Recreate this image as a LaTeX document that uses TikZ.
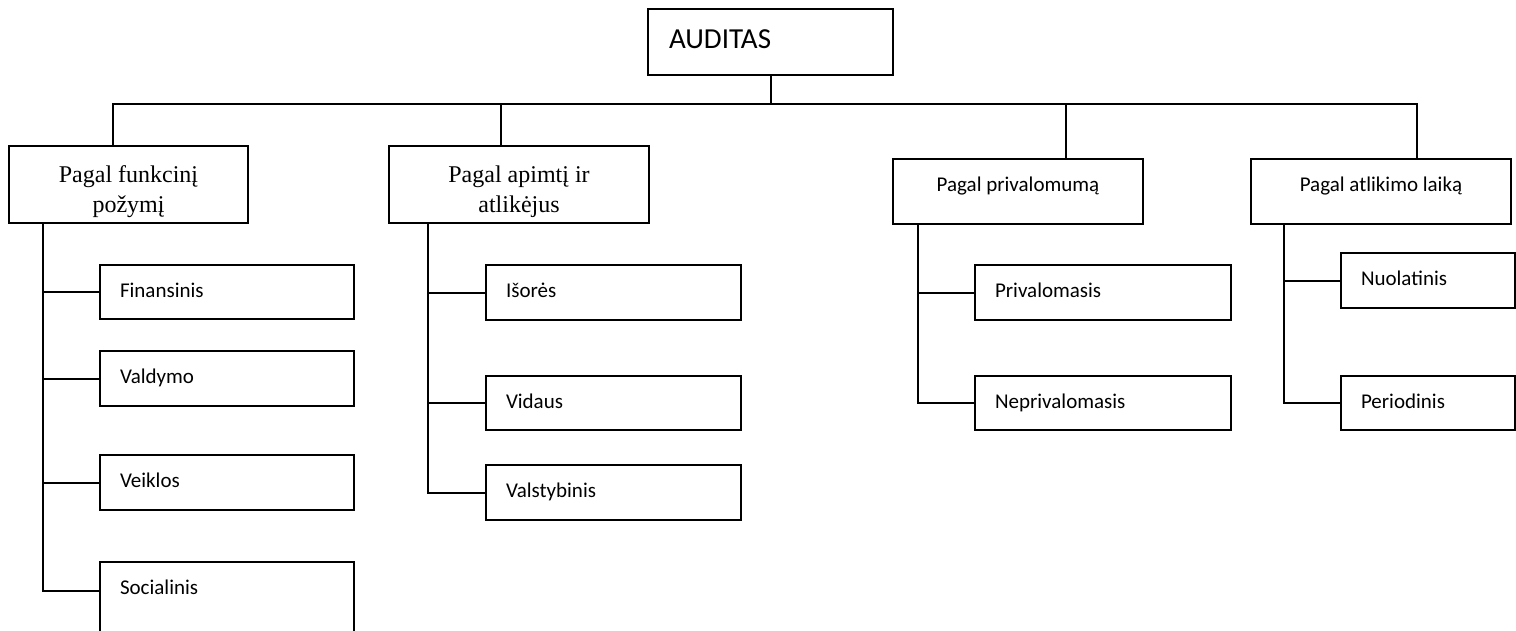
\documentclass[tikz,border=0pt]{standalone}
\usepackage{fontspec}
\setmainfont{Liberation Serif}
\newfontfamily\calfont{Carlito}
\usetikzlibrary{calc}
\begin{document}
\begin{tikzpicture}[x=1pt,y=-1pt,line width=2pt,
  every node/.style={inner sep=0pt},
  topbox/.style={draw,anchor=north west,font=\calfont\fontsize{29}{35}\selectfont,align=left,inner xsep=21pt,inner ysep=0pt},
  serifbox/.style={draw,anchor=north west},
  seriftext/.style={font=\fontsize{24}{30}\selectfont,align=center,anchor=north},
  sansbox/.style={draw,anchor=north west,font=\calfont\fontsize{21}{25}\selectfont,inner sep=0pt,text height=32.5pt,text depth=32.5pt},
  leaf/.style={draw,anchor=north west,font=\calfont\fontsize{21}{25}\selectfont,align=left,inner xsep=20pt,inner ysep=0pt,text height=32pt},
  link/.style={line width=2pt}
]
\useasboundingbox (0,0) rectangle (1516,630);
\clip (0,0) rectangle (1516,630);

% coordinates for the bus and drops
\coordinate (bus) at (0,104);
\coordinate (d1) at (113,0);
\coordinate (d2) at (501,0);
\coordinate (d3) at (1066,0);
\coordinate (d4) at (1417,0);
\coordinate (s1) at (43,0);
\coordinate (s2) at (428,0);
\coordinate (s3) at (918,0);
\coordinate (s4) at (1284,0);

% root
\node[topbox,text width=203pt,text height=39pt,text depth=27pt] (A) at (647,8) {AUDITAS};

% level 1
\node[serifbox,minimum width=239pt,minimum height=77pt] (b1) at (8,145) {};
\node[seriftext] (b1t) at ($(b1.north)+(0,16)$) {\rule{0pt}{20pt}Pagal funkcinį\\požymį};
\node[serifbox,minimum width=260pt,minimum height=77pt] (b2) at (388,145) {};
\node[seriftext] (b2t) at ($(b2.north)+(0,16)$) {\rule{0pt}{20pt}Pagal apimtį ir\\atlikėjus};
\node[sansbox,minimum width=250pt] (b3) at (892,158) {Pagal privalomumą};
\node[sansbox,minimum width=260pt] (b4) at (1250,158) {Pagal atlikimo laiką};

% level 2
\node[leaf,text width=214pt,text depth=22pt] (c11) at (99,264) {Finansinis};
\node[leaf,text width=214pt,text depth=23pt] (c12) at (99,350) {Valdymo};
\node[leaf,text width=214pt,text depth=23pt] (c13) at (99,454) {Veiklos};
\node[leaf,text width=214pt,text depth=53pt] (c14) at (99,561) {Socialinis};

\node[leaf,text width=215pt,text depth=23pt] (c21) at (485,264) {Išorės};
\node[leaf,text width=215pt,text depth=22pt] (c22) at (485,375) {Vidaus};
\node[leaf,text width=215pt,text depth=23pt] (c23) at (485,464) {Valstybinis};

\node[leaf,text width=216pt,text depth=23pt] (c31) at (974,264) {Privalomasis};
\node[leaf,text width=216pt,text depth=22pt] (c32) at (974,375) {Neprivalomasis};

\node[leaf,text width=134pt,text depth=23pt] (c41) at (1340,252) {Nuolatinis};
\node[leaf,text width=134pt,text depth=22pt] (c42) at (1340,375) {Periodinis};

% top connectors
\draw[link] (A.south) -- (A.south |- bus);
\draw[link] (b1.north -| d1) -- (d1 |- bus) -- (d4 |- bus) -- (b4.north -| d4);
\draw[link] (d2 |- bus) -- (b2.north -| d2);
\draw[link] (d3 |- bus) -- (b3.north -| d3);

% column 1
\draw[link] (b1.south -| s1) |- ([yshift=-30pt]c14.north west);
\draw[link] (s1 |- c11.west) -- (c11.west);
\draw[link] (s1 |- c12.west) -- (c12.west);
\draw[link] (s1 |- c13.west) -- (c13.west);

% column 2
\draw[link] (b2.south -| s2) |- (c23.west);
\draw[link] (s2 |- c21.west) -- (c21.west);
\draw[link] (s2 |- c22.west) -- (c22.west);

% column 3
\draw[link] (b3.south -| s3) |- (c32.west);
\draw[link] (s3 |- c31.west) -- (c31.west);

% column 4
\draw[link] (b4.south -| s4) |- (c42.west);
\draw[link] (s4 |- c41.west) -- (c41.west);
\end{tikzpicture}
\end{document}
